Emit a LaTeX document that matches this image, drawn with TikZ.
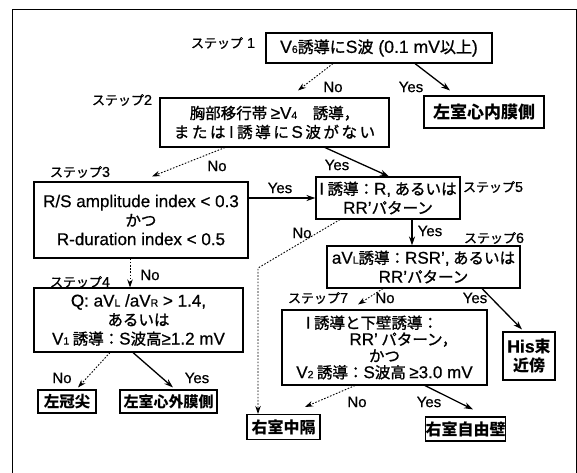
\documentclass[tikz,border=0pt]{standalone}
\usepackage{fontspec}
\setmainfont{Noto Sans CJK JP}[UprightFeatures={FakeBold=1.2}]
\newfontfamily\la[Scale=1.1,FakeBold=0.6]{Liberation Sans}
\newfontfamily\lab[FakeBold=0.6]{Liberation Sans}
\usetikzlibrary{arrows.meta,calc}
\newcommand\LA[1]{{\la #1}}
\newcommand\lsub[1]{{\fontsize{9.5}{9.5}\selectfont #1}}
\begin{document}
\begin{tikzpicture}[x=1pt,y=-1pt,
  box/.style={draw,line width=1.1pt,inner sep=0pt,align=center,font=\fontsize{15.5}{19}\selectfont},
  res/.style={draw,line width=1.1pt,inner sep=0pt,align=center,font=\fontsize{16}{19}\selectfont\bfseries},
  lbl/.style={inner sep=0pt,font=\fontsize{13}{13}\selectfont},
  yn/.style={inner sep=0pt,font=\lab\fontsize{15}{15}\selectfont},
  yesarrow/.style={line width=1.3pt,-{Stealth[length=9pt,width=6pt]}},
  noarrow/.style={line width=0.9pt,dash pattern=on 1.6pt off 1.6pt,-{Stealth[length=8pt,width=5.5pt]}}
]
\useasboundingbox (0,0) rectangle (577,472);
\draw[line width=1pt] (12,474) -- (12,9) -- (576,9) -- (576,474);

% nodes
\node[box,font=\fontsize{16}{19}\selectfont,minimum width=226pt,minimum height=30pt] (s1) at (379,48)
  {\LA{V\lsub{6}}誘導に\LA{S}波\LA{ (0.1 mV}以上\LA{)}};
\node[box,minimum width=229pt,minimum height=49pt] (s2) at (274.5,122.5)
  {胸部移行帯 \LA{≥V\lsub{4}}　誘導，\\ま\,た\,は\ \LA{I}\ 誘\,導\,に\,\LA{S}\,波\,が\,な\,い};
\node[res,font=\fontsize{17}{19}\selectfont\bfseries,minimum width=120pt,minimum height=32pt] (L1) at (484,112) {左室心内膜側};
\node[box,minimum width=214pt,minimum height=76pt] (s3) at (141,220)
  {\LA{R/S amplitude index < 0.3}\\かつ\\\LA{R-duration index < 0.5}};
\node[box,minimum width=209pt,minimum height=64pt] (s4) at (138.5,320)
  {\LA{Q: aV\lsub{L} /aV\lsub{R} > 1.4,}\\あるいは\\\LA{V\lsub{1}} 誘導：\LA{S}波高\LA{≥1.2 mV}};
\node[box,minimum width=144pt,minimum height=42pt] (s5) at (388,198)
  {\LA{I} 誘導：\LA{R,} あるいは\\\LA{RR’}パターン};
\node[box,minimum width=193pt,minimum height=42pt] (s6) at (423.5,267)
  {\LA{aV\lsub{L}}誘導：\LA{RSR’,} あるいは\\\LA{RR’}パターン};
\node[box,font=\fontsize{15.5}{16.5}\selectfont,minimum width=205pt,minimum height=75pt] (s7) at (384.5,347.5)
  {\LA{I}\ 誘導と下壁誘導：\phantom{MM}\\\phantom{MMM}\LA{RR’} パターン，\\かつ\\\LA{V\lsub{2}} 誘導：\LA{S}波高 \LA{≥3.0 mV}};
\node[res,minimum width=52pt,minimum height=48pt] (His) at (529,356) {\LA{His}束\\近傍};
\node[res,minimum width=73pt,minimum height=25pt] (rvs) at (283.5,427) {右室中隔};
\node[res,minimum width=77pt,minimum height=24pt] (rvf) at (465.5,429) {右室自由壁};
\node[res,font=\fontsize{15.5}{19}\selectfont\bfseries,minimum width=58pt,minimum height=23pt] (lcc) at (67,401.5) {左冠尖};
\node[res,font=\fontsize{15}{19}\selectfont\bfseries,minimum width=97pt,minimum height=23pt] (lve) at (168.5,401.5) {左室心外膜側};

% step labels
\node[lbl] (st1) at (223,43) {ステップ\LA{ 1}};
\node[lbl] (st2) at (122,100) {ステップ\LA{2}};
\node[lbl] (st3) at (80,172) {ステップ\LA{3}};
\node[lbl] (st4) at (80,282) {ステップ\LA{4}};
\node[lbl] (st5) at (493,187) {ステップ\LA{5}};
\node[lbl] (st6) at (494,238) {ステップ\LA{6}};
\node[lbl] (st7) at (318,298) {ステップ\LA{7}};

% connectors
\draw[noarrow] ([xshift=-46pt]s1.south) -- ([xshift=23.5pt,yshift=7pt]s2.north);
\node[yn] (n1) at (333,87) {No};
\draw[yesarrow] ([xshift=36pt]s1.south) -- ([xshift=-34pt,yshift=5pt]L1.north);
\node[yn] (y1) at (411,87) {Yes};

\draw[noarrow] ([xshift=-49.5pt]s2.south) -- ([xshift=11pt,yshift=5pt]s3.north);
\node[yn] (n2) at (217,166) {No};
\draw[yesarrow] ([xshift=50.5pt]s2.south) -- ([xshift=1pt]s5.north);
\node[yn] (y2) at (337,165) {Yes};

\draw[yesarrow] (s3.east |- s5.west) -- (s5.west);
\node[yn] (y3) at (280,188) {Yes};
\draw[noarrow] ([xshift=-11pt]s3.south) -- ([xshift=-11pt]s3.south |- s4.north);
\node[yn] (n3) at (150,275) {No};

\draw[yesarrow] ([xshift=24pt]s5.south) -- ([xshift=24pt]s5.south |- s6.north);
\node[yn] (y5) at (430,231) {Yes};
\coordinate (bend) at (258,268);
\draw[noarrow] ([xshift=-48pt]s5.south) -- (bend) -- (bend |- rvs.north);
\node[yn] (n5) at (302,233) {No};

\draw[noarrow] ([xshift=-40.5pt]s6.south) -- ([xshift=-26.5pt,yshift=5pt]s7.north);
\node[yn] (n6) at (385,298) {No};
\draw[yesarrow] ([xshift=58.5pt]s6.south) -- ([xshift=-7pt,yshift=2pt]His.north);
\node[yn] (y6) at (475,298) {Yes};

\draw[noarrow] ([xshift=-29.5pt]s7.south) -- ([xshift=21.5pt,yshift=7pt]rvs.north);
\node[yn] (n7) at (357,402) {No};
\draw[yesarrow] ([xshift=40.5pt]s7.south) -- ([xshift=7.5pt,yshift=7pt]rvf.north);
\node[yn] (y7) at (429,402) {Yes};

\draw[noarrow] ([xshift=-28.5pt]s4.south) -- ([xshift=11pt,yshift=2pt]lcc.north);
\node[yn] (n4) at (62,378) {No};
\draw[yesarrow] ([xshift=-5.5pt]s4.south) -- ([xshift=4.5pt,yshift=2pt]lve.north);
\node[yn] (y4) at (197,378) {Yes};
\end{tikzpicture}
\end{document}
